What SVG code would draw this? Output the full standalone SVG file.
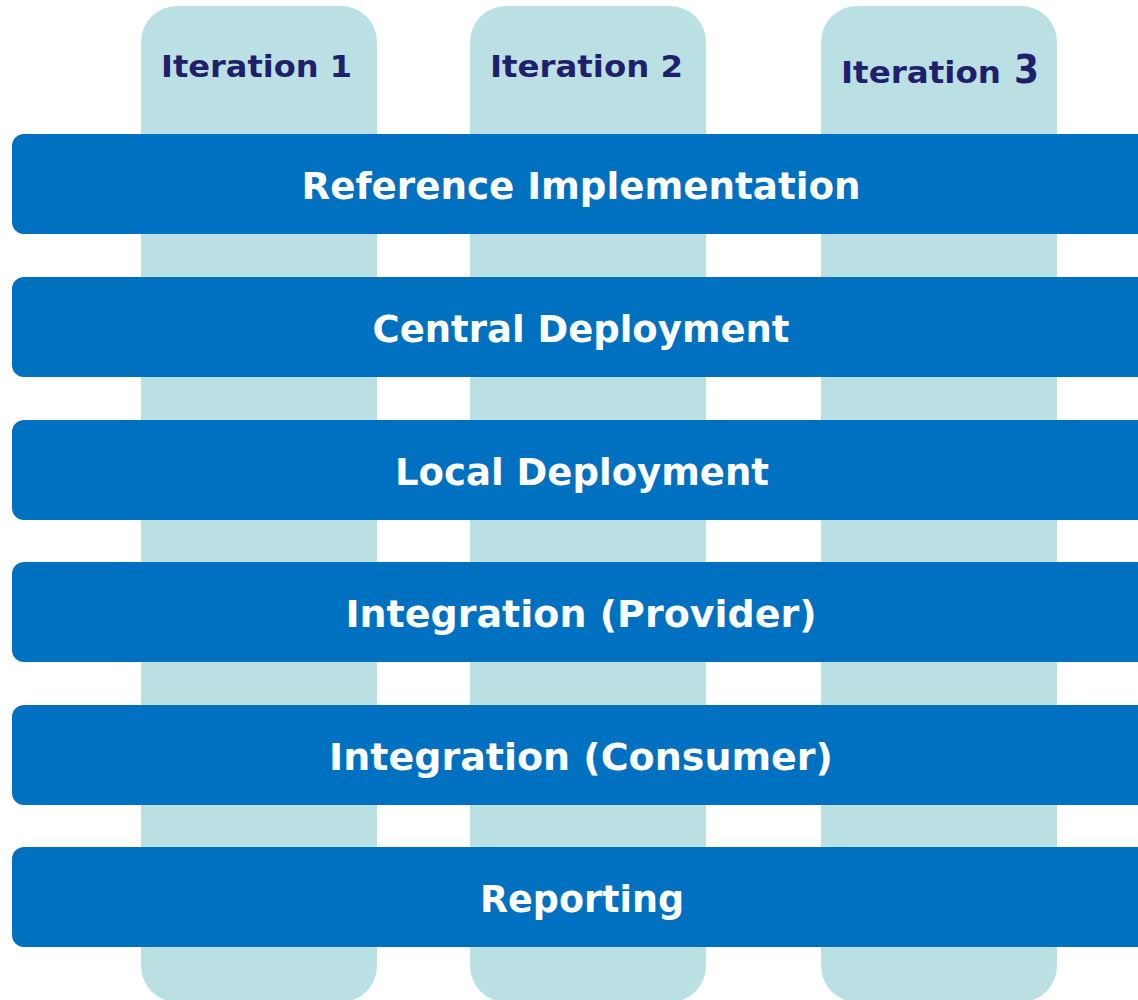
<svg xmlns="http://www.w3.org/2000/svg" width="1138" height="1000" viewBox="0 0 1138 1000">
<style>
.col{fill:#BBE0E3}
.bar{fill:#0070C0}
.it{font-family:"DejaVu Sans",Verdana,sans-serif;font-weight:bold;font-size:31px;fill:#1F1F6B}
.big{font-size:39px}
.lbl{font-family:"DejaVu Sans",Verdana,sans-serif;font-weight:bold;font-size:38px;fill:#FFFFFF;text-anchor:middle}
</style>
<rect width="1138" height="1000" fill="#FFFFFF"/>
<g id="iteration1"><rect class="col" x="141" y="6" width="236" height="996" rx="36"/><text class="it" x="161" y="77" textLength="191" lengthAdjust="spacingAndGlyphs">Iteration 1</text></g>
<g id="iteration2"><rect class="col" x="470" y="6" width="236" height="996" rx="36"/><text class="it" x="490" y="77" textLength="193" lengthAdjust="spacingAndGlyphs">Iteration 2</text></g>
<g id="iteration3"><rect class="col" x="821" y="6" width="236" height="996" rx="36"/><text class="it" x="841" y="83" textLength="160" lengthAdjust="spacingAndGlyphs">Iteration</text><text class="it big" x="1014" y="83" textLength="25" lengthAdjust="spacingAndGlyphs">3</text></g>
<g id="reference"><rect class="bar" x="12" y="134" width="1150" height="100" rx="12"/><text class="lbl" x="581" y="199" textLength="559" lengthAdjust="spacingAndGlyphs">Reference Implementation</text></g>
<g id="central"><rect class="bar" x="12" y="277" width="1150" height="100" rx="12"/><text class="lbl" x="581" y="342" textLength="417" lengthAdjust="spacingAndGlyphs">Central Deployment</text></g>
<g id="local"><rect class="bar" x="12" y="420" width="1150" height="100" rx="12"/><text class="lbl" x="582" y="485" textLength="374" lengthAdjust="spacingAndGlyphs">Local Deployment</text></g>
<g id="provider"><rect class="bar" x="12" y="562" width="1150" height="100" rx="12"/><text class="lbl" x="581" y="627">Integration (Provider)</text></g>
<g id="consumer"><rect class="bar" x="12" y="705" width="1150" height="100" rx="12"/><text class="lbl" x="581" y="770">Integration (Consumer)</text></g>
<g id="reporting"><rect class="bar" x="12" y="847" width="1150" height="100" rx="12"/><text class="lbl" x="582" y="912" textLength="204" lengthAdjust="spacingAndGlyphs">Reporting</text></g>
<g id="connectors"/>
</svg>
